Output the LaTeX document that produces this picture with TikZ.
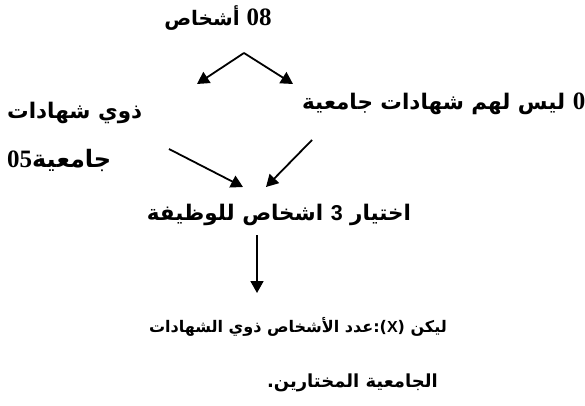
\documentclass[tikz,border=0pt]{standalone}
\usepackage{fontspec}
\usetikzlibrary{arrows.meta}
\TeXXeTstate=1
\newfontfamily\arabicfont[Script=Arabic]{DejaVu Sans}
\newfontfamily\numfont{Liberation Serif}
\newfontfamily\latinsans{Liberation Sans}
\newcommand\bignum[1]{{\numfont\fontsize{25}{28}\selectfont #1}}

\begin{document}
\begin{tikzpicture}[x=1pt,y=-1pt]
\tikzstyle{every node}=[inner sep=0pt,font=\arabicfont\bfseries\fontsize{21.5}{24}\selectfont]
\tikzstyle{small}=[font=\arabicfont\bfseries\fontsize{20}{24}\selectfont]
\tikzstyle{lower}=[font=\arabicfont\bfseries\fontsize{16}{18}\selectfont]
\tikzstyle{arr}=[line width=1.8pt,-{Triangle[length=12pt,width=13pt]}]
\useasboundingbox (0,0) rectangle (585,406);
\node[small] (total) at (218,18) {\beginR\beginL\bignum{08}\endL{} أشخاص\endR};
\node[anchor=west] (nodeg) at (302,104) {\beginR\beginL\bignum{03}\endL{} ليس لهم شهادات جامعية\endR};
\node[anchor=west] (deg) at (7,113) {\beginR ذوي شهادات\endR};
\node[anchor=west,font=\arabicfont\bfseries\fontsize{24}{28}\selectfont] (degb) at (7,160) {\beginR جامعية\beginL\bignum{05}\endL\endR};
\node (job) at (279,215) {\beginR اختيار \beginL{\latinsans 3}\endL{} اشخاص للوظيفة\endR};
\node[lower,anchor=east] (let) at (447,327) {\beginR ليكن (\beginL{\latinsans X}\endL):عدد الأشخاص ذوي الشهادات\endR};
\node[lower,font=\arabicfont\bfseries\fontsize{18}{20}\selectfont,anchor=east] (leta) at (438,383) {\beginR الجامعية المختارين.\endR};
\coordinate (split) at (244,53);
\coordinate (tipL) at (197,84);
\coordinate (tipR) at (293,84);
\coordinate (fromL) at (169,149);
\coordinate (fromR) at (312,140);
\coordinate (meet) at (243,187);
\coordinate (meetR) at (266,187);
\coordinate (down) at (257,235);
\coordinate (downtip) at (257,293);
\draw[arr] (split) -- (tipL);
\draw[arr] (split) -- (tipR);
\draw[arr] (fromL) -- (meet);
\draw[arr] (fromR) -- (meetR);
\draw[arr] (down) -- (downtip);
\end{tikzpicture}
\end{document}
